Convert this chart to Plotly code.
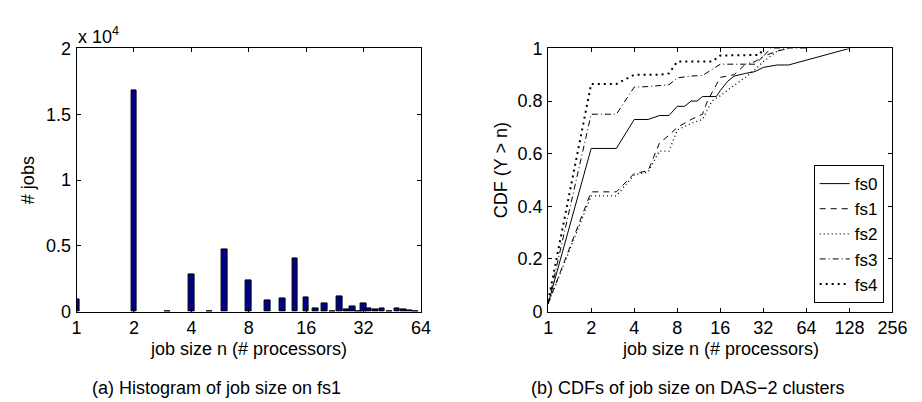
import numpy as np
import plotly.graph_objects as go

# ---------------- data ----------------
# (a) histogram of job size on fs1
hist_sizes = [1, 2, 3, 4, 5, 6, 8, 10, 12, 14, 16, 18, 20, 22, 24, 26, 28, 30,
              32, 34, 37, 40, 44, 48, 52, 56, 60]
hist_counts = [950, 16800, 20, 2820, 50, 4690, 2380, 890, 1010, 4020, 1090, 280,
               650, 30, 1180, 150, 360, 30, 610, 270, 150, 240, 30, 220, 170, 120, 40]
hist_xticks = [1, 2, 4, 8, 16, 32, 64]
hist_yticks = [0, 5000, 10000, 15000, 20000]
hist_ytext = ["0", "0.5", "1", "1.5", "2"]

# (b) CDFs of job size on DAS-2 clusters
fs0_n = [1, 2, 3, 4, 5, 6, 7, 8, 9, 10, 11, 12, 15, 16, 18, 20, 24, 28, 32, 40, 48, 56, 64, 80, 96, 128]
fs0_c = [0.03, 0.62, 0.62, 0.73, 0.73, 0.745, 0.745, 0.78, 0.78, 0.80, 0.80, 0.817, 0.817, 0.84,
         0.875, 0.895, 0.905, 0.912, 0.928, 0.937, 0.937, 0.947, 0.955, 0.97, 0.98, 1.0]
fs1_n = [1, 2, 3, 4, 5, 6, 7, 8, 10, 12, 13, 16, 20, 24, 28, 32, 40, 48]
fs1_c = [0.03, 0.455, 0.455, 0.525, 0.535, 0.64, 0.67, 0.70, 0.73, 0.75, 0.80, 0.89, 0.90,
         0.94, 0.94, 0.97, 0.99, 1.0]
fs2_n = [1, 2, 3, 4, 5, 6, 7, 8, 10, 12, 14, 16, 20, 24, 28, 32, 40, 48]
fs2_c = [0.03, 0.44, 0.44, 0.52, 0.53, 0.61, 0.61, 0.69, 0.715, 0.73, 0.80, 0.82, 0.86,
         0.89, 0.92, 0.95, 0.99, 1.0]
fs3_n = [1, 2, 3, 4, 5, 6, 7, 8, 10, 12, 16, 20, 24, 28, 32, 36, 48, 64]
fs3_c = [0.03, 0.75, 0.75, 0.853, 0.855, 0.858, 0.862, 0.888, 0.895, 0.897, 0.94, 0.94,
         0.94, 0.95, 0.97, 1.0, 1.0, 1.0]
fs4_n = [1, 2, 3, 4, 5, 6, 7, 8, 10, 12, 14, 16, 20, 24, 28, 30, 32]
fs4_c = [0.04, 0.865, 0.865, 0.90, 0.90, 0.90, 0.905, 0.95, 0.95, 0.95, 0.95, 0.973, 0.973,
         0.973, 0.973, 0.975, 1.0]
cdf_xticks = [1, 2, 4, 8, 16, 32, 64, 128, 256]
cdf_yticks = [0, 0.2, 0.4, 0.6, 0.8, 1]
cdf_ytext = ["0", "0.2", "0.4", "0.6", "0.8", "1"]

# ---------------- figure ----------------
W, H = 922, 402
FONT = "Liberation Sans, Arial, Helvetica, sans-serif"
FS = 18

def px_x(p):
    return p / W

def px_y(p):
    return 1 - p / H

fig = go.Figure()

fig.add_trace(go.Bar(
    x=np.log2(hist_sizes), y=hist_counts, width=0.1,
    marker=dict(color="#00008B", line=dict(color="black", width=1)),
    xaxis="x", yaxis="y", showlegend=False,
))

styles = [
    ("fs0", fs0_n, fs0_c, "solid", 1),
    ("fs1", fs1_n, fs1_c, "6px,5px", 1),
    ("fs2", fs2_n, fs2_c, "1px,3px", 1.3),
    ("fs3", fs3_n, fs3_c, "6px,3px,1px,3px", 1),
    ("fs4", fs4_n, fs4_c, "2px,4px", 2),
]
for name, n, c, dash, w in styles:
    fig.add_trace(go.Scatter(
        x=n, y=c, mode="lines", name=name,
        line=dict(color="black", width=w, dash=dash),
        xaxis="x2", yaxis="y2",
    ))

axis_common = dict(
    showline=True, linecolor="black", linewidth=1, mirror="ticks",
    ticks="inside", ticklen=4, tickcolor="black", showgrid=False, zeroline=False,
    tickfont=dict(family=FONT, size=FS, color="black"),
)

fig.update_layout(
    width=W, height=H, margin=dict(l=0, r=0, t=0, b=0),
    plot_bgcolor="white", paper_bgcolor="white",
    font=dict(family=FONT, size=FS, color="black"),
    bargap=0,
    xaxis=dict(domain=[px_x(65), px_x(417)], range=[0, 6],
               tickvals=np.log2(hist_xticks).tolist(),
               ticktext=[str(v) for v in hist_xticks], ticklabelstandoff=0,
               anchor="y", **axis_common),
    yaxis=dict(domain=[px_y(309), px_y(32)], range=[0, 20000],
               tickvals=hist_yticks, ticktext=hist_ytext, ticklabelstandoff=1,
               anchor="x", **axis_common),
    xaxis2=dict(domain=[px_x(547), px_x(899)], type="log",
                range=[0, np.log10(256)], tickvals=cdf_xticks,
                ticktext=[str(v) for v in cdf_xticks], ticklabelstandoff=0,
                anchor="y2", **axis_common),
    yaxis2=dict(domain=[px_y(309), px_y(32)], range=[0, 1],
                tickvals=cdf_yticks, ticktext=cdf_ytext, ticklabelstandoff=1,
                anchor="x2", **axis_common),
    legend=dict(x=px_x(890), y=px_y(300), xanchor="right", yanchor="bottom",
                bgcolor="white", bordercolor="black", borderwidth=1,
                font=dict(family=FONT, size=17, color="black"),
                tracegroupgap=0, itemwidth=30),
)

ann = [
    dict(text="job size n (# processors)", x=px_x(241), y=px_y(348)),
    dict(text="job size n (# processors)", x=px_x(723), y=px_y(348)),
    dict(text="(a) Histogram of job size on fs1", x=px_x(208), y=px_y(389)),
    dict(text="(b) CDFs of job size on DAS\u22122 clusters", x=px_x(690), y=px_y(389)),
    dict(text="# jobs", x=px_x(16), y=px_y(171), textangle=-90),
    dict(text="CDF (Y > n)", x=px_x(499), y=px_y(160), textangle=-90),
    dict(text="x 10<sup>4</sup>", x=px_x(64), y=px_y(18), xanchor="left"),
]
for a in ann:
    a.setdefault("xanchor", "center")
    fig.add_annotation(xref="paper", yref="paper", showarrow=False,
                       yanchor="middle", font=dict(family=FONT, size=FS, color="black"),
                       **a)

fig.write_html("out.html")
